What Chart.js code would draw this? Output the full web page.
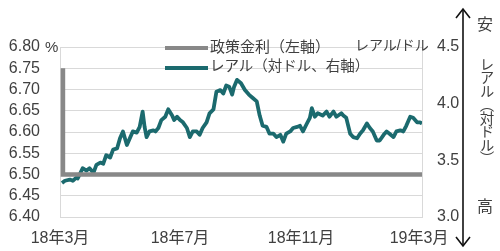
<!DOCTYPE html>
<html><head><meta charset="utf-8">
<script src="https://cdn.jsdelivr.net/npm/chart.js@4"></script>
<style>
html,body{margin:0;padding:0;background:#fff;}
#wrap{position:relative;width:500px;height:251px;overflow:hidden;}
canvas{position:absolute;left:0;top:0;}
.t{position:absolute;white-space:nowrap;color:#404040;font-family:"Liberation Sans","Noto Sans CJK JP",sans-serif;line-height:1;}
.lg{position:absolute;height:4px;}
</style></head><body>
<div id="wrap">
<canvas id="c" width="500" height="251"></canvas>
<svg style="position:absolute;left:0;top:0" width="500" height="251">
 <g stroke="#111" stroke-width="1.6" fill="none">
  <line x1="463" y1="9" x2="463" y2="246"/>
  <polyline points="456,18 463,9 470,18"/>
  <polyline points="456,237 463,246 470,237"/>
 </g>
</svg>
<div class="t" style="left:45px;top:39px;font-size:15px;">%</div>
<div class="t" style="left:355px;top:38px;font-size:14px;">レアル/ドル</div>
<div class="lg" style="left:165px;top:46px;width:43px;background:#888888;"></div>
<div class="lg" style="left:165px;top:66px;width:43px;background:#1b6a6e;"></div>
<div class="t" style="left:210px;top:39px;font-size:15px;">政策金利（左軸）</div>
<div class="t" style="left:210px;top:59px;font-size:14.5px;">レアル（対ドル、右軸）</div>
<div class="t" style="left:477px;top:17px;font-size:16px;">安</div>
<div class="t" style="left:477px;top:199px;font-size:16px;">高</div>
<div class="t" style="left:478px;top:57px;font-size:14.5px;writing-mode:vertical-rl;letter-spacing:-1px;">レアル（対ドル）</div>
</div>
<script>
// x values: days since 2018-03-01
const tickDays = [0, 122, 245, 365];
const tickLabels = ['18年3月', '18年7月', '18年11月', '19年3月'];
const leftTicks = [6.40, 6.80, 0.05];
const rightTicks = [3.0, 4.5, 0.5];

const policyDays = [3, 3, 368];
const policyRate = [6.75, 6.50, 6.50];

const realDays = [2,5,10,13,17,18,23,27,30,34,37,41,44,47,51,54,58,61,64,68,71,74,78,81,84,86,88,91,95,97,100,103,107,110,114,116,119,122,125,129,132,135,139,142,145,149,152,156,159,163,166,169,172,175,177,180,184,188,192,196,200,203,206,210,213,217,220,224,227,230,234,237,241,244,247,251,254,256,259,262,267,271,274,278,281,286,288,291,295,298,302,305,308,312,315,318,322,325,329,332,335,339,342,346,349,352,356,359,363,366,368];
const realRate = [3.30,3.32,3.33,3.32,3.35,3.34,3.43,3.41,3.43,3.39,3.46,3.48,3.47,3.545,3.525,3.595,3.605,3.695,3.755,3.635,3.695,3.755,3.745,3.795,3.93,3.795,3.705,3.755,3.765,3.755,3.785,3.855,3.885,3.95,3.895,3.855,3.885,3.855,3.835,3.785,3.705,3.755,3.755,3.725,3.785,3.835,3.915,3.95,4.105,4.12,4.09,4.16,4.15,4.08,4.15,4.21,4.18,4.12,4.08,4.05,4.02,3.895,3.805,3.795,3.735,3.735,3.705,3.725,3.665,3.735,3.755,3.785,3.795,3.805,3.755,3.825,3.875,3.96,3.885,3.915,3.895,3.93,3.885,3.93,3.885,3.915,3.895,3.875,3.735,3.705,3.695,3.735,3.765,3.825,3.785,3.755,3.675,3.675,3.725,3.755,3.735,3.705,3.755,3.765,3.755,3.805,3.885,3.875,3.835,3.835,3.825];

const font = {family: '"Liberation Sans","Noto Sans CJK JP",sans-serif', size: 16};
const xfont = {family: '"Liberation Sans","Noto Sans CJK JP",sans-serif', size: 16};
const txt = '#404040';

new Chart(document.getElementById('c'), {
  type: 'line',
  data: {
    datasets: [
      {label: '政策金利（左軸）', data: policyDays.map((d,i)=>({x:d, y:policyRate[i]})), yAxisID: 'y',
       borderColor: '#888888', borderWidth: 4.5, pointRadius: 0, tension: 0, borderJoinStyle: 'miter', borderCapStyle: 'butt'},
      {label: 'レアル（対ドル、右軸）', data: realDays.map((d,i)=>({x:d, y:realRate[i]})), yAxisID: 'y2',
       borderColor: '#1b6a6e', borderWidth: 3.8, pointRadius: 0, tension: 0, borderJoinStyle: 'round'}
    ]
  },
  options: {
    responsive: false, animation: false, devicePixelRatio: 1,
    layout: {padding: {top: 47, left: 0, right: 0, bottom: 0}},
    plugins: {legend: {display: false}, tooltip: {enabled: false}},
    scales: {
      x: {type: 'linear', min: 0, max: 368,
        afterBuildTicks: s => { s.ticks = tickDays.map(v => ({value: v})); },
        ticks: {callback: (v, i) => tickLabels[i], maxRotation: 0, autoSkip: false, padding: 12, font: xfont, color: txt},
        grid: {display: false, drawTicks: false}, border: {display: false},
        afterFit: s => { s.height = 34; }},
      y: {position: 'left', min: leftTicks[0], max: leftTicks[1],
        ticks: {stepSize: leftTicks[2], autoSkip: false, callback: v => Number(v).toFixed(2), padding: 20, font: font, color: txt},
        grid: {color: '#d9d9d9', lineWidth: 1, drawTicks: false}, border: {color: '#d9d9d9'},
        afterFit: s => { s.width = 60; }},
      y2: {position: 'right', min: rightTicks[0], max: rightTicks[1],
        ticks: {stepSize: rightTicks[2], autoSkip: false, callback: v => Number(v).toFixed(1), padding: 15, font: font, color: txt},
        grid: {display: true, drawOnChartArea: false, drawTicks: false}, border: {color: '#d9d9d9'},
        afterFit: s => { s.width = 78; }}
    }
  }
});
</script>
</body></html>
